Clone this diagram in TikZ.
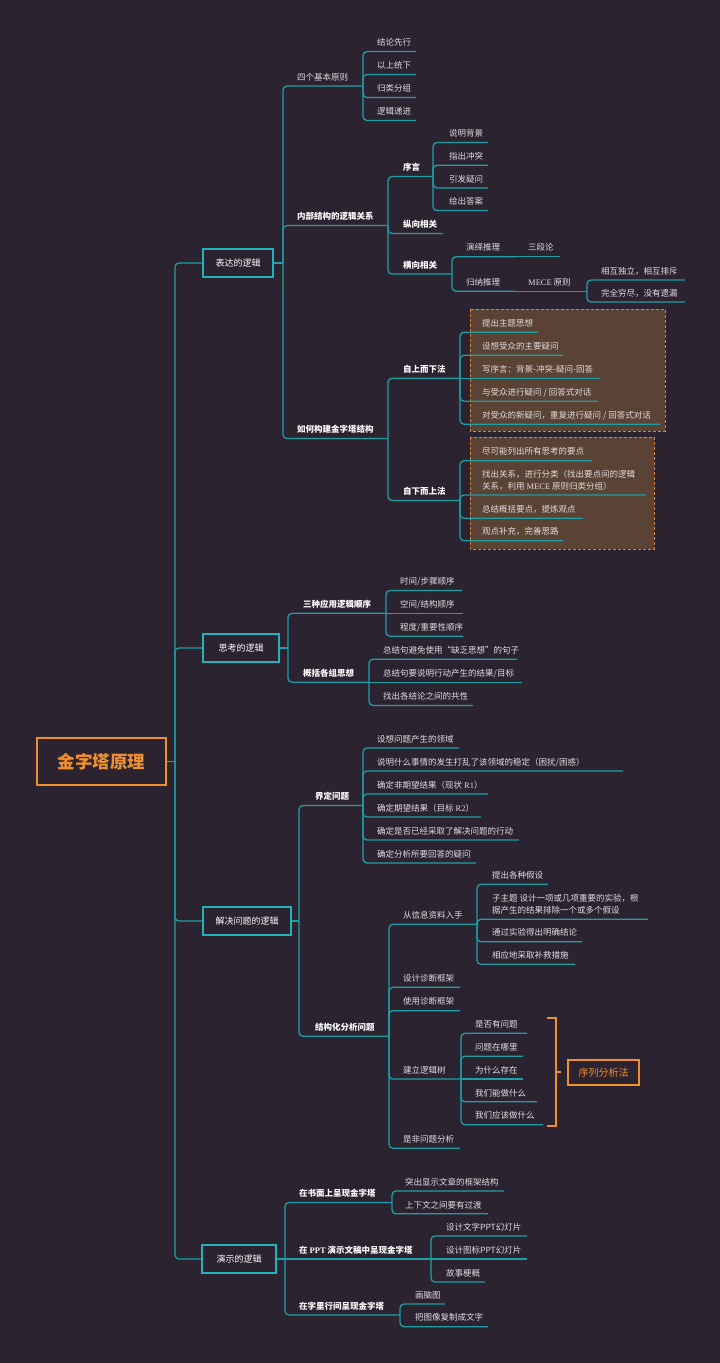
\documentclass[tikz,border=0pt]{standalone}
\usepackage{fontspec}
\setmainfont{Noto Sans CJK SC}
\newfontfamily\lat{Liberation Serif}
\definecolor{bg}{HTML}{2B2330}
\definecolor{tl}{HTML}{1E9EA5}
\definecolor{tlb}{HTML}{22B3B8}
\definecolor{org}{HTML}{F0902C}
\definecolor{brn}{HTML}{5A4234}
\definecolor{brd}{HTML}{D98238}
\definecolor{txt}{HTML}{E2DEE2}
\tikzset{
  conn/.style={draw=tl, line width=1.3pt, rounded corners=4pt},
  lf/.style={inner sep=0pt, text=txt, font=\fontsize{8.5}{11.7}\selectfont},
  lb/.style={inner sep=0pt, text=white, font=\fontsize{8.5}{11.7}\selectfont\bfseries},
  l1/.style={draw=tlb, line width=2pt, fill=bg, text=white, font=\fontsize{9}{11}\selectfont, minimum height=28pt, inner sep=0pt},
  rootbox/.style={draw=org, line width=1.8pt, fill=bg, text=org, font=\fontsize{17.5}{20}\selectfont\bfseries, minimum width=129pt, minimum height=47pt, inner sep=0pt},
  sbox/.style={draw=org, line width=2pt, fill=bg, text=org, font=\fontsize{10}{12}\selectfont, minimum width=71pt, minimum height=25pt, inner sep=0pt},
  bbox/.style={fill=brn, draw=brd, line width=1pt, dash pattern=on 3pt off 2pt},
  brk/.style={draw=org, line width=2pt},
}
% #1 style, #2 name, #3 parent end, #4 text x, #5 underline y, #6 end x, #7 text
\newcommand\mm[7][lf]{%
  \coordinate (#2-s) at ({#4},{#5});
  \coordinate (#2-e) at ({#6},{#5});
  \node[#1, anchor=base west] (#2) at ({#4},{#5-5.8}) {#7};
  \draw[conn] (#3) |- (#2-s) -- (#2-e);
}
\newcommand\ms[7][lf]{%
  \coordinate (#2-s) at ({#4},{#5});
  \coordinate (#2-e) at ({#6},{#5});
  \node[#1, anchor=base west] (#2) at ({#4},{#5-5.8}) {#7};
  \draw[conn] (#3) -- (#2-s) -- (#2-e);
}
\newcommand\mml[7][lf]{%
  \coordinate (#2-s) at ({#4},{#5});
  \coordinate (#2-e) at ({#6},{#5});
  \node[#1, anchor=south west, align=left] (#2) at ({#4},{#5-4.8}) {#7};
  \draw[conn] (#3) |- (#2-s) -- (#2-e);
}
\begin{document}
\begin{tikzpicture}[x=1pt,y=-1pt]
\fill[bg] (0,0) rectangle (720,1363);
\useasboundingbox (0,0) rectangle (720,1363);
% dashed brown panels
\draw[bbox] (470,309) rectangle (665,431);
\draw[bbox] (470,437) rectangle (654,549);
% root, trunk and level-1 boxes
\node[rootbox] (root) at (101.5,761.5) {金字塔原理};
\coordinate (T) at (175,761.5);
\node[l1, minimum width=70pt] (A) at (238,263) {表达的逻辑};
\node[l1, minimum width=76pt] (B) at (241,648) {思考的逻辑};
\node[l1, minimum width=88pt] (C) at (247,921) {解决问题的逻辑};
\node[l1, minimum width=74pt] (D) at (239,1259) {演示的逻辑};
\draw[conn] (root.east) -- (T);
\foreach \n in {A,B,C,D} \draw[conn] (T) |- (\n.west);
\coordinate (Ae) at (283,263); \draw[conn] (A.east) -- (Ae);
\coordinate (Be) at (288,648); \draw[conn] (B.east) -- (Be);
\coordinate (Ce) at (299,921); \draw[conn] (C.east) -- (Ce);
\coordinate (De) at (285,1259); \draw[conn] (D.east) -- (De);
% ---------- 表达的逻辑
\mm{Aa}{Ae}{297}{86}{363}{四个基本原则}
\mm{Aa1}{Aa-e}{377}{51.5}{416}{结论先行}
\mm{Aa2}{Aa-e}{377}{74.5}{416}{以上统下}
\mm{Aa3}{Aa-e}{377}{97.5}{416}{归类分组}
\mm{Aa4}{Aa-e}{377}{120.5}{416}{逻辑递进}
\mm[lb]{Ab}{Ae}{297}{225.5}{388}{内部结构的逻辑关系}
\mm[lb]{Ab1}{Ab-e}{403}{176.5}{433}{序言}
\mm{Ab11}{Ab1-e}{449}{142.5}{488}{说明背景}
\mm{Ab12}{Ab1-e}{449}{165.2}{488}{指出冲突}
\mm{Ab13}{Ab1-e}{449}{187.9}{488}{引发疑问}
\mm{Ab14}{Ab1-e}{449}{210.5}{488}{给出答案}
\mm[lb]{Ab2}{Ab-e}{403}{233.5}{443}{纵向相关}
\mm[lb]{Ab3}{Ab-e}{403}{274}{452}{横向相关}
\mm{Ab31}{Ab3-e}{466}{256.7}{515}{演绎推理}
\ms{Ab311}{Ab31-e}{528}{256.7}{560}{三段论}
\mm{Ab32}{Ab3-e}{466}{291.3}{515}{归纳推理}
\ms{Ab321}{Ab32-e}{528}{291.3}{587}{{\lat MECE} 原则}
\mm{Ab3211}{Ab321-e}{601}{280}{685}{相互独立，相互排斥}
\mm{Ab3212}{Ab321-e}{601}{302}{685}{完全穷尽，没有遗漏}
\mm[lb]{Ac}{Ae}{297}{438.5}{388}{如何构建金字塔结构}
\mm[lb]{Ac1}{Ac-e}{403}{378.3}{460}{自上而下法}
\mm{Ac11}{Ac1-e}{482}{332.3}{538}{提出主题思想}
\mm{Ac12}{Ac1-e}{482}{355.3}{563}{设想受众的主要疑问}
\ms{Ac13}{Ac1-e}{482}{378.3}{600}{写序言：背景-冲突-疑问-回答}
\mm{Ac14}{Ac1-e}{482}{401.2}{598}{与受众进行疑问 / 回答式对话}
\mm{Ac15}{Ac1-e}{482}{424.2}{660}{对受众的新疑问，重复进行疑问 / 回答式对话}
\mm[lb]{Ac2}{Ac-e}{403}{500.5}{460}{自下而上法}
\mm{Ac21}{Ac2-e}{482}{460.7}{592}{尽可能列出所有思考的要点}
\mml{Ac22}{Ac2-e}{482}{495}{646}{找出关系，进行分类（找出要点间的逻辑\\关系，利用 {\lat MECE} 原则归类分组）}
\mm{Ac23}{Ac2-e}{482}{518.3}{583}{总结概括要点，提炼观点}
\mm{Ac24}{Ac2-e}{482}{540.7}{563}{观点补充，完善思路}
% ---------- 思考的逻辑
\mm[lb]{Ba}{Be}{303}{613.3}{386}{三种应用逻辑顺序}
\mm{Ba1}{Ba-e}{400}{590.5}{462}{时间/步骤顺序}
\ms{Ba2}{Ba-e}{400}{613.3}{463}{空间/结构顺序}
\mm{Ba3}{Ba-e}{400}{636.3}{463}{程度/重要性顺序}
\mm[lb]{Bb}{Be}{303}{682.3}{369}{概括各组思想}
\mm{Bb1}{Bb-e}{383}{659.2}{517}{总结句避免使用“缺乏思想”的句子}
\ms{Bb2}{Bb-e}{383}{682.3}{522}{总结句要说明行动产生的结果/目标}
\mm{Bb3}{Bb-e}{383}{705.4}{473}{找出各结论之间的共性}
% ---------- 解决问题的逻辑
\mm[lb]{Ca}{Ce}{315}{805.5}{363}{界定问题}
\mm{Ca1}{Ca-e}{377}{748}{459}{设想问题产生的领域}
\mm{Ca2}{Ca-e}{377}{771}{623}{说明什么事情的发生打乱了该领域的稳定（困扰/困惑）}
\mm{Ca3}{Ca-e}{377}{794}{488}{确定非期望结果（现状 {\lat R1}）}
\mm{Ca4}{Ca-e}{377}{817}{481}{确定期望结果（目标 {\lat R2}）}
\mm{Ca5}{Ca-e}{377}{840}{519}{确定是否已经采取了解决问题的行动}
\mm{Ca6}{Ca-e}{377}{863}{476}{确定分析所要回答的疑问}
\mm[lb]{Cb}{Ce}{315}{1036.3}{389}{结构化分析问题}
\mm{Cb1}{Cb-e}{403}{924.3}{477}{从信息资料入手}
\mm{Cb11}{Cb1-e}{492}{884.3}{548}{提出各种假设}
\mml{Cb12}{Cb1-e}{492}{919.3}{648}{子主题 设计一项或几项重要的实验，根\\据产生的结果排除一个或多个假设}
\mm{Cb13}{Cb1-e}{492}{941.7}{582}{通过实验得出明确结论}
\mm{Cb14}{Cb1-e}{492}{964.3}{575}{相应地采取补救措施}
\mm{Cb2}{Cb-e}{403}{987.3}{460}{设计诊断框架}
\mm{Cb3}{Cb-e}{403}{1010.7}{460}{使用诊断框架}
\mm{Cb4}{Cb-e}{403}{1079}{461}{建立逻辑树}
\mm{Cb41}{Cb4-e}{475}{1033.3}{527}{是否有问题}
\mm{Cb42}{Cb4-e}{475}{1056.2}{523}{问题在哪里}
\ms{Cb43}{Cb4-e}{475}{1079}{523}{为什么存在}
\mm{Cb44}{Cb4-e}{475}{1101.8}{537}{我们能做什么}
\mm{Cb45}{Cb4-e}{475}{1124.7}{543}{我们应该做什么}
\mm{Cb5}{Cb-e}{403}{1148.3}{460}{是非问题分析}
% bracket and summary box
\draw[brk] (547,1017.5) -- (556,1017.5) -- (556,1126) -- (547,1126);
\coordinate (brm) at (556,1071.5);
\node[sbox] (S) at (603.5,1072.5) {序列分析法};
\draw[brk, shorten >=6pt] (brm) -- (S.west |- brm);
% ---------- 演示的逻辑
\mm[lb]{Da}{De}{299}{1202.5}{392}{在书面上呈现金字塔}
\mm{Da1}{Da-e}{405}{1191}{504}{突出显示文章的框架结构}
\mm{Da2}{Da-e}{405}{1213.8}{488}{上下文之间要有过渡}
\ms[lb]{Db}{De}{299}{1259}{431}{在 {\lat PPT} 演示文稿中呈现金字塔}
\mm{Db1}{Db-e}{446}{1236}{527}{设计文字PPT幻灯片}
\ms{Db2}{Db-e}{446}{1259}{527}{设计图标PPT幻灯片}
\mm{Db3}{Db-e}{446}{1282}{485}{故事梗概}
\mm[lb]{Dc}{De}{299}{1315}{400}{在字里行间呈现金字塔}
\mm{Dc1}{Dc-e}{415}{1304}{445}{画脑图}
\mm{Dc2}{Dc-e}{415}{1326.7}{488}{把图像复制成文字}
\end{tikzpicture}
\end{document}
